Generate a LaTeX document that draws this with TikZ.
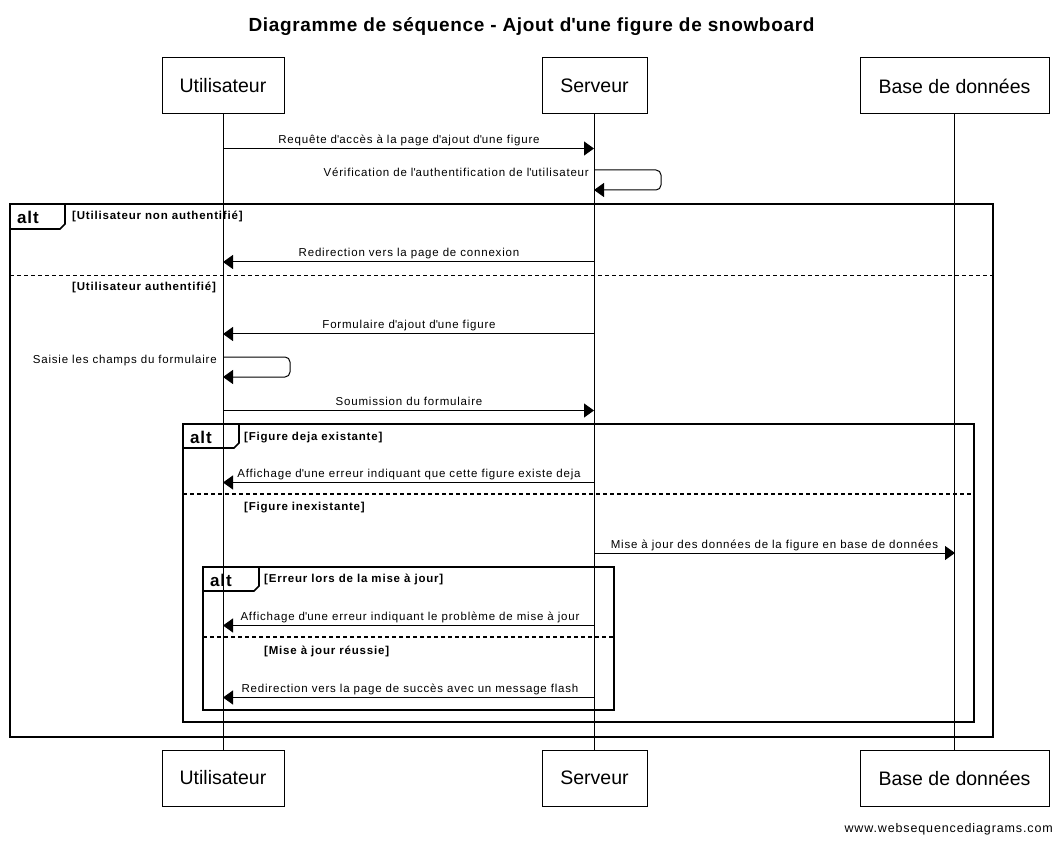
\documentclass[tikz,border=0pt]{standalone}
\usepackage{fontspec}
\setmainfont{Liberation Sans}
\newfontfamily\msgfont{Liberation Sans}[LetterSpace=7]
\newfontfamily\titlefont{Liberation Sans}[LetterSpace=3.5]
\newfontfamily\altfont{Liberation Sans}[LetterSpace=5]
\usetikzlibrary{arrows.meta}
\newcommand{\q}{\textquotesingle}
\tikzset{
  participant/.style={draw, line width=1pt, fill=white, inner sep=0pt, minimum height=56pt, font=\fontsize{19.5}{22}\selectfont},
  lifeline/.style={line width=1pt},
  msg/.style={line width=1pt, -{Triangle[length=10pt,width=14pt]}},
  selfmsg/.style={line width=1pt, rounded corners=5pt, -{Triangle[length=10pt,width=14pt]}},
  lbl/.style={font=\msgfont\fontsize{11.5}{13}\selectfont, inner sep=0pt, anchor=base},
  selflbl/.style={font=\msgfont\fontsize{11.5}{13}\selectfont, inner sep=0pt, anchor=base east},
  frame/.style={line width=1.8pt},
  tab/.style={line width=1.6pt},
  sep/.style={line width=1.5pt, dash pattern=on 4pt off 3pt},
  guard/.style={font=\msgfont\bfseries\fontsize{11.5}{13}\selectfont, inner sep=0pt, anchor=base west},
  alttxt/.style={font=\altfont\bfseries\fontsize{17}{18}\selectfont, inner sep=0pt, anchor=base west}
}
\begin{document}
\begin{tikzpicture}[x=1pt,y=-1pt]
\fill[white] (0,0) rectangle (1063,842);
\useasboundingbox (0,0) rectangle (1063,842);

% title
\node[font=\titlefont\bfseries\fontsize{19}{21}\selectfont, inner sep=0pt, anchor=base] (title) at (531.5,32) {Diagramme de séquence - Ajout d\q une figure de snowboard};

% participants
\node[participant, minimum width=122pt] (u1) at (223,86) {Utilisateur};
\node[participant, minimum width=105pt] (s1) at (594.5,86) {Serveur};
\node[participant, minimum width=189pt] (d1) at (954.5,86) {Base de données};
\node[participant, minimum width=122pt] (u2) at (223,778) {Utilisateur};
\node[participant, minimum width=105pt] (s2) at (594.5,778) {Serveur};
\node[participant, minimum width=189pt] (d2) at (954.5,778) {Base de données};

% lifelines
\draw[lifeline] (u1.south) -- (u2.north);
\draw[lifeline] (s1.south) -- (s2.north);
\draw[lifeline] (d1.south) -- (d2.north);

% message anchor points on lifelines
\coordinate (a1u) at (223,148.5);   \coordinate (a1s) at (594,148.5);
\coordinate (v1a) at (594,170);     \coordinate (v1b) at (594,190);
\coordinate (a3u) at (223,262);     \coordinate (a3s) at (594,262);
\coordinate (a4u) at (223,334);     \coordinate (a4s) at (594,334);
\coordinate (v2a) at (223,357);     \coordinate (v2b) at (223,377);
\coordinate (a6u) at (223,410.5);   \coordinate (a6s) at (594,410.5);
\coordinate (a7u) at (223,482.5);   \coordinate (a7s) at (594,482.5);
\coordinate (a8s) at (594,553);     \coordinate (a8d) at (955,553);
\coordinate (a9u) at (223,625.5);   \coordinate (a9s) at (594,625.5);
\coordinate (a10u) at (223,697.5);  \coordinate (a10s) at (594,697.5);

% messages
\draw[msg] (a1u) -- (a1s);
\node[lbl] (l1) at (409,143.5) {Requête d\q accès à la page d\q ajout d\q une figure};

\draw[selfmsg] (v1a) -- ++(67,0) -- ++(0,20) -- (v1b);
\node[selflbl] (l2) at (589,177) {Vérification de l\q authentification de l\q utilisateur};

\draw[msg] (a3s) -- (a3u);
\node[lbl] (l3) at (409,257) {Redirection vers la page de connexion};

\draw[msg] (a4s) -- (a4u);
\node[lbl] (l4) at (409,329) {Formulaire d\q ajout d\q une figure};

\draw[selfmsg] (v2a) -- ++(67,0) -- ++(0,20) -- (v2b);
\node[selflbl] (l5) at (217,363.5) {Saisie les champs du formulaire};

\draw[msg] (a6u) -- (a6s);
\node[lbl] (l6) at (409,405.5) {Soumission du formulaire};

\draw[msg] (a7s) -- (a7u);
\node[lbl] (l7) at (409,477.5) {Affichage d\q une erreur indiquant que cette figure existe deja};

\draw[msg] (a8s) -- (a8d);
\node[lbl] (l8) at (774.5,548) {Mise à jour des données de la figure en base de données};

\draw[msg] (a9s) -- (a9u);
\node[lbl] (l9) at (410,620.5) {Affichage d\q une erreur indiquant le problème de mise à jour};

\draw[msg] (a10s) -- (a10u);
\node[lbl] (l10) at (410,692.5) {Redirection vers la page de succès avec un message flash};

% outer alt frame
\draw[frame] (10,204) rectangle (993,737);
\draw[tab] (10,229) -- (60,229) -- (65,224) -- (65,204);
\node[alttxt] (alt1) at (17,224) {alt};
\node[guard] (g1) at (72,220) {[Utilisateur non authentifié]};
\draw[sep] (10,275.5) -- (993,275.5);
\node[guard] (g2) at (72,291) {[Utilisateur authentifié]};

% second alt frame
\draw[frame] (183,424) rectangle (974,722);
\draw[tab] (183,448) -- (234,448) -- (239,443) -- (239,424);
\node[alttxt] (alt2) at (190,443) {alt};
\node[guard] (g3) at (244,440) {[Figure deja existante]};
\draw[sep] (183,494) -- (974,494);
\node[guard] (g4) at (244,510) {[Figure inexistante]};

% third alt frame
\draw[frame] (203,567) rectangle (614,710);
\draw[tab] (203,591) -- (254,591) -- (259,586) -- (259,567);
\node[alttxt] (alt3) at (210,586) {alt};
\node[guard] (g5) at (264,582) {[Erreur lors de la mise à jour]};
\draw[sep] (203,637) -- (614,637);
\node[guard] (g6) at (264,654) {[Mise à jour réussie]};

% footer
\node[font=\msgfont\fontsize{12.5}{14}\selectfont, inner sep=0pt, anchor=base east] (foot) at (1053,832) {www.websequencediagrams.com};
\end{tikzpicture}
\end{document}
